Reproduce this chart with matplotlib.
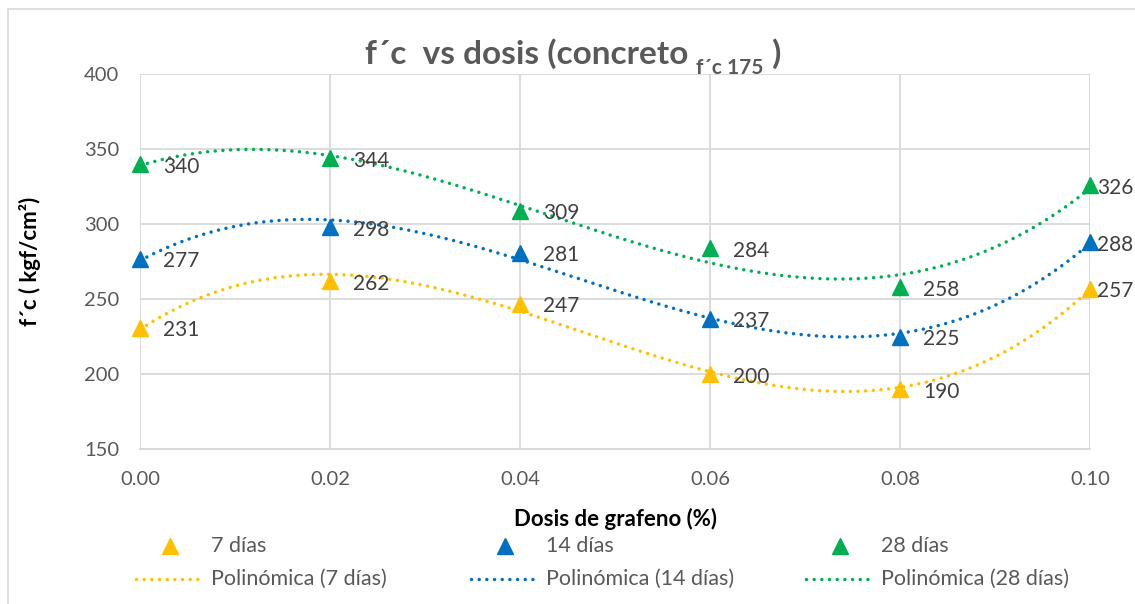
import numpy as np
import matplotlib
matplotlib.use("Agg")
import matplotlib.pyplot as plt
from matplotlib.lines import Line2D
from matplotlib.patches import Rectangle

dosis = [0.00, 0.02, 0.04, 0.06, 0.08, 0.10]
dias7 = [231, 262, 247, 200, 190, 257]
dias14 = [277, 298, 281, 237, 225, 288]
dias28 = [340, 344, 309, 284, 258, 326]
series_names = ["7 días", "14 días", "28 días"]
colors = ["#FFC000", "#0070C0", "#00B050"]
xticks = [0.00, 0.02, 0.04, 0.06, 0.08, 0.10]
yticks = [150, 200, 250, 300, 350, 400]

plt.rcParams['font.family'] = ["Lato", "DejaVu Sans"]
GRAY = "#595959"
DOT = (0, (0.01, 2.2))

W, H = 1135, 604
fig = plt.figure(figsize=(W / 100, H / 100), dpi=100)
ax = fig.add_axes([140 / W, 1 - 449 / H, (1090 - 140) / W, (449 - 74) / H])

ax.set_xlim(0, 0.10)
ax.set_ylim(150, 400)
ax.set_xticks(xticks)
ax.set_yticks(yticks)
ax.set_xticklabels([f"{v:.2f}" for v in xticks])
ax.set_yticklabels([str(v) for v in yticks])
ax.grid(True, color="#D9D9D9", linewidth=1.3)
ax.set_axisbelow(True)
for s in ax.spines.values():
    s.set_visible(False)
ax.spines['bottom'].set_visible(True)
ax.spines['bottom'].set_color("#D9D9D9")
ax.spines['bottom'].set_linewidth(1.3)
ax.tick_params(length=0, labelsize=14.5, colors=GRAY)
ax.tick_params(axis='x', pad=16)
ax.tick_params(axis='y', pad=15)

xs = np.array(dosis)
xfine = np.linspace(0, 0.10, 400)
for name, data, c in zip(series_names, [dias7, dias14, dias28], colors):
    coef = np.polyfit(xs, np.array(data, dtype=float), 3)
    ax.plot(xfine, np.polyval(coef, xfine), linestyle=DOT, color=c,
            linewidth=2.5, dash_capstyle='round', zorder=2, clip_on=False)
    ax.plot(xs, data, linestyle='none', marker='^', markersize=11, color=c,
            zorder=3, clip_on=False)
    for xv, yv in zip(dosis, data):
        dx = 5 if xv == max(dosis) else 16.5
        ax.annotate(str(yv), (xv, yv), xytext=(dx, -2), textcoords='offset points',
                    ha='left', va='center', fontsize=15, color="#404040",
                    annotation_clip=False)

# Legend drawn manually in figure pixel coordinates (3 columns x 2 rows)
def fx(px):
    return px / W

def fy(py):
    return 1 - py / H

row1, row2 = 546, 579
for i, (name, c) in enumerate(zip(series_names, colors)):
    x0 = 133 + 335 * i
    fig.add_artist(Line2D([fx(x0 + 37)], [fy(row1)], linestyle='none', marker='^',
                          markersize=11, color=c, transform=fig.transFigure))
    fig.text(fx(x0 + 78), fy(row1), name, fontsize=15.5, color=GRAY,
             ha='left', va='center')
    fig.add_artist(Line2D([fx(x0 + 3), fx(x0 + 66)], [fy(row2), fy(row2)],
                          linestyle=DOT, linewidth=2.5, dash_capstyle='round',
                          color=c, transform=fig.transFigure))
    fig.text(fx(x0 + 78), fy(row2), f"Polinómica ({name})", fontsize=15.5,
             color=GRAY, ha='left', va='center')

ax.set_xlabel("Dosis de grafeno (%)", fontsize=16, fontweight='bold', color="black")
ax.set_ylabel("f´c ( kgf/cm²)", fontsize=16, fontweight='bold', color="black")
ax.xaxis.set_label_coords(0.5, -(519 - 449) / (449 - 74))
ax.yaxis.set_label_coords(-(140 - 30) / (1090 - 140), 0.5)
ax.xaxis.label.set_va('center')
ax.yaxis.label.set_va('center')

# Title with subscript
renderer = fig.canvas.get_renderer()
ty = fy(64)
t1 = fig.text(0, ty, "f´c  vs dosis (concreto ", fontsize=24, fontweight='bold',
              color=GRAY, va='baseline', ha='left')
t2 = fig.text(0, ty - 10 / H, "f´c 175", fontsize=15, fontweight='bold', color=GRAY,
              va='baseline', ha='left')
t3 = fig.text(0, ty, " )", fontsize=24, fontweight='bold', color=GRAY,
              va='baseline', ha='left')
w1 = t1.get_window_extent(renderer).width
w2 = t2.get_window_extent(renderer).width
w3 = t3.get_window_extent(renderer).width
total = w1 + w2 + w3
cx = 573
x0 = cx - total / 2
t1.set_x(x0 / W)
t2.set_x((x0 + w1) / W)
t3.set_x((x0 + w1 + w2) / W)

# Chart border (left and top visible)
fig.patches.append(Rectangle((8 / W, -0.1), 1.2, 1 - 9 / H + 0.1, transform=fig.transFigure,
                             fill=False, edgecolor="#D9D9D9", linewidth=1.2))

fig.savefig("out.png", dpi=100)
